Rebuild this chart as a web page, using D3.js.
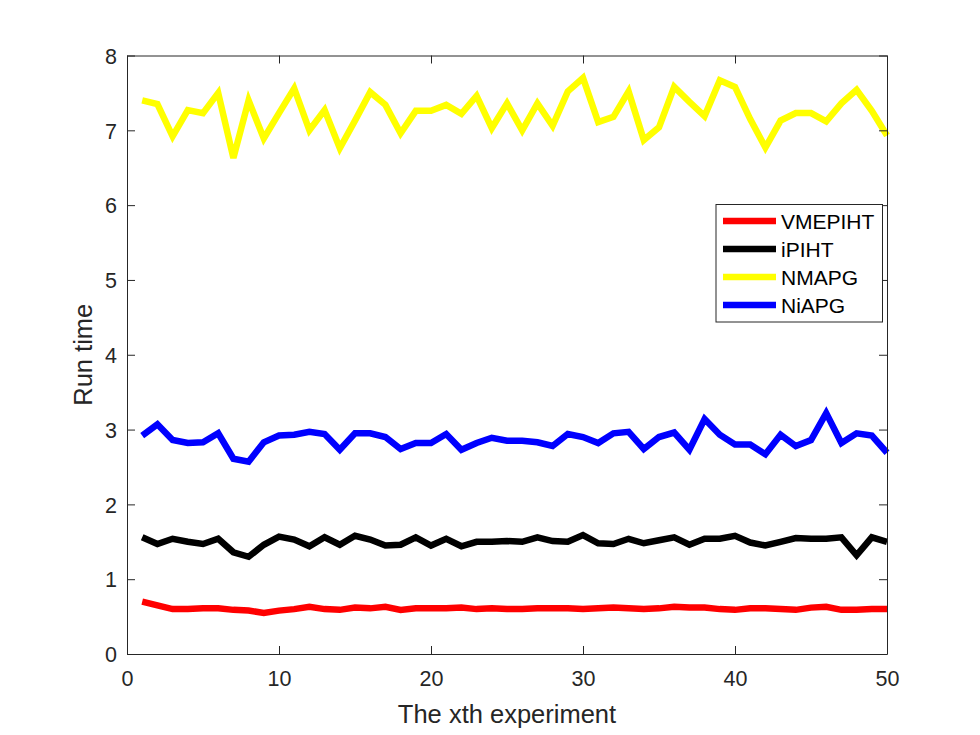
<!DOCTYPE html>
<html>
<head>
<meta charset="utf-8">
<script src="https://cdn.jsdelivr.net/npm/d3@7"></script>
<style>
  body { margin: 0; background: #fff; }
  svg { display: block; font-family: "Liberation Sans", Arial, sans-serif; }
  .axis path, .axis line { stroke: #262626; }
  .axis text { fill: #262626; font-size: 21.5px; }
</style>
</head>
<body>
<svg id="chart"></svg>
<script>
// experiment index 1..50
var experiments = d3.range(1, 51);

var seriesNames = ["VMEPIHT", "iPIHT", "NMAPG", "NiAPG"];
var seriesColors = ["#ff0000", "#000000", "#ffff00", "#0000ff"];

var vmepiht = [0.70, 0.65, 0.60, 0.60, 0.61, 0.61, 0.59, 0.58, 0.55, 0.58,
               0.60, 0.63, 0.60, 0.59, 0.62, 0.61, 0.63, 0.59, 0.61, 0.61,
               0.61, 0.62, 0.60, 0.61, 0.60, 0.60, 0.61, 0.61, 0.61, 0.60,
               0.61, 0.62, 0.61, 0.60, 0.61, 0.63, 0.62, 0.62, 0.60, 0.59,
               0.61, 0.61, 0.60, 0.59, 0.62, 0.63, 0.59, 0.59, 0.60, 0.60];

var ipiht = [1.56, 1.47, 1.54, 1.50, 1.47, 1.54, 1.36, 1.30, 1.46, 1.57,
             1.53, 1.44, 1.56, 1.46, 1.58, 1.53, 1.45, 1.46, 1.56, 1.45,
             1.54, 1.44, 1.50, 1.50, 1.51, 1.50, 1.56, 1.51, 1.50, 1.59,
             1.48, 1.47, 1.54, 1.48, 1.52, 1.56, 1.46, 1.54, 1.54, 1.58,
             1.49, 1.45, 1.50, 1.55, 1.54, 1.54, 1.56, 1.32, 1.56, 1.50];

var nmapg = [7.40, 7.35, 6.92, 7.27, 7.23, 7.50, 6.63, 7.40, 6.89, 7.23,
             7.56, 7.00, 7.27, 6.76, 7.13, 7.51, 7.34, 6.96, 7.26, 7.26,
             7.34, 7.22, 7.46, 7.03, 7.36, 7.00, 7.36, 7.06, 7.52, 7.70,
             7.11, 7.18, 7.52, 6.87, 7.04, 7.58, 7.38, 7.19, 7.67, 7.58,
             7.15, 6.77, 7.13, 7.23, 7.23, 7.12, 7.36, 7.54, 7.26, 6.93];

var niapg = [2.92, 3.07, 2.86, 2.82, 2.83, 2.95, 2.61, 2.57, 2.83, 2.92,
             2.93, 2.97, 2.94, 2.73, 2.95, 2.95, 2.90, 2.74, 2.82, 2.82,
             2.94, 2.73, 2.82, 2.89, 2.85, 2.85, 2.83, 2.78, 2.94, 2.90,
             2.82, 2.95, 2.97, 2.74, 2.90, 2.96, 2.73, 3.14, 2.93, 2.80,
             2.80, 2.67, 2.93, 2.78, 2.86, 3.22, 2.82, 2.95, 2.92, 2.69];

var xTicks = [0, 10, 20, 30, 40, 50];
var yTicks = [0, 1, 2, 3, 4, 5, 6, 7, 8];

var xLabel = "The xth experiment";
var yLabel = "Run time";

var drawChart = function()
{
    var screen = {width: 980, height: 735};
    var margins = {left: 127, right: 93, top: 55.5, bottom: 81};
    var graph = {
        width: screen.width - margins.left - margins.right,
        height: screen.height - margins.top - margins.bottom
    };

    var svg = d3.select("#chart")
        .attr("width", screen.width)
        .attr("height", screen.height);

    var target = svg.append("g")
        .attr("transform", "translate(" + margins.left + "," + margins.top + ")");

    var xScale = d3.scaleLinear().domain([0, 50]).range([0, graph.width]);
    var yScale = d3.scaleLinear().domain([0, 8]).range([graph.height, 0]);

    var allSeries = [vmepiht, ipiht, nmapg, niapg];

    var line = d3.line()
        .x(function(d, i) { return xScale(experiments[i]); })
        .y(function(d) { return yScale(d); });

    target.selectAll(".series")
        .data(allSeries)
        .enter()
        .append("path")
        .attr("class", "series")
        .attr("fill", "none")
        .attr("stroke", function(d, i) { return seriesColors[i]; })
        .attr("stroke-width", 6.5)
        .attr("stroke-linejoin", "miter")
        .attr("d", line);

    // axes, ticks pointing inward like matlab
    var tick = 8;
    var xAxisBottom = target.append("g").attr("class", "axis")
        .attr("transform", "translate(0," + graph.height + ")")
        .call(d3.axisBottom(xScale).tickValues(xTicks).tickSizeInner(-tick)
              .tickSizeOuter(0).tickPadding(17));
    target.append("g").attr("class", "axis")
        .call(d3.axisTop(xScale).tickValues(xTicks).tickSizeInner(-tick)
              .tickSizeOuter(0).tickFormat(""));
    var yAxisLeft = target.append("g").attr("class", "axis")
        .call(d3.axisLeft(yScale).tickValues(yTicks).tickSizeInner(-tick)
              .tickSizeOuter(0).tickPadding(10));
    target.append("g").attr("class", "axis")
        .attr("transform", "translate(" + graph.width + ",0)")
        .call(d3.axisRight(yScale).tickValues(yTicks).tickSizeInner(-tick)
              .tickSizeOuter(0).tickFormat(""));

    yAxisLeft.selectAll(".tick text").attr("dy", "0.36em");
    xAxisBottom.selectAll(".tick text").attr("dy", "0.71em");

    // labels
    svg.append("text")
        .text(xLabel)
        .attr("text-anchor", "middle")
        .attr("x", margins.left + graph.width / 2)
        .attr("y", 722.5)
        .attr("fill", "#262626")
        .style("font-size", "25.5px");

    svg.append("text")
        .text(yLabel)
        .attr("text-anchor", "middle")
        .attr("transform", "translate(92," + (margins.top + graph.height / 2) + ") rotate(-90)")
        .attr("fill", "#262626")
        .style("font-size", "25.5px");

    // legend
    var legend = svg.append("g")
        .attr("transform", "translate(716,204.5)");

    legend.append("rect")
        .attr("width", 166.5)
        .attr("height", 117.5)
        .attr("fill", "#fff")
        .attr("stroke", "#262626")
        .attr("stroke-width", 1);

    var entries = legend.selectAll(".entry")
        .data(seriesNames)
        .enter()
        .append("g")
        .attr("class", "entry")
        .attr("transform", function(d, i) { return "translate(0," + (16.5 + i * 28) + ")"; });

    entries.append("line")
        .attr("x1", 7).attr("x2", 60)
        .attr("stroke", function(d, i) { return seriesColors[i]; })
        .attr("stroke-width", 6.5);

    entries.append("text")
        .text(function(d) { return d; })
        .attr("x", 65)
        .attr("dy", "0.36em")
        .attr("fill", "#000")
        .style("font-size", "21px");
};

drawChart();
</script>
</body>
</html>
